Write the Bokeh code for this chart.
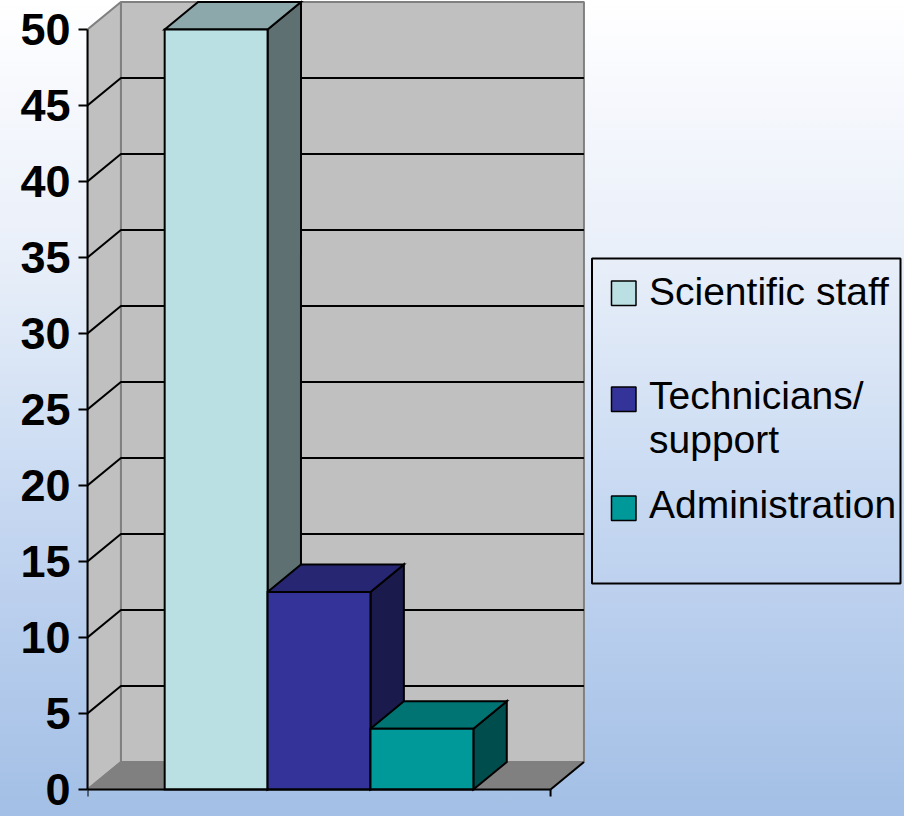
from bokeh.plotting import figure
from bokeh.models import Range1d, FixedTicker, LinearAxis, Label, BoxAnnotation
from bokeh.embed import file_html
from bokeh.resources import INLINE

# ---------------- data ----------------
series = ["Scientific staff", "Technicians/", "Administration"]
series_extra_line = ["", "support", ""]
values = [50, 13, 4]
y_ticks = [0, 5, 10, 15, 20, 25, 30, 35, 40, 45, 50]

# ---------------- styles ----------------
front_colors = ["#BBE0E3", "#333399", "#009999"]
top_colors = ["#8CA8AA", "#262673", "#007373"]
side_colors = ["#5E7072", "#1A1A4D", "#004D4D"]
WALL = "#C0C0C0"
FLOOR = "#808080"
FONT = "Liberation Sans"

W, H = 904, 816
LEFT = 87            # frame left = front value axis
Y0 = 789.0           # pixel row of value 0 on the front plane
PXX = 102.9          # px per bar width
PXY = 15.2           # px per value unit
GAP = 0.75           # half gap (gap width 150%)
DX = 33.4 / PXX      # 3-D depth offset, x
DY = 27.5 / PXY      # 3-D depth offset, y
N = len(values)
X_END = 2 * GAP + N  # floor width
Y_TOP = y_ticks[-1]


def px_x(px):
    return (px - LEFT) / PXX


def px_y(py):
    return (Y0 - py) / PXY


p = figure(width=W, height=H,
           x_range=Range1d(0, (W - LEFT) / PXX),
           y_range=Range1d(px_y(H), px_y(0)),
           output_backend="svg", toolbar_location=None,
           x_axis_location=None, y_axis_location=None,
           min_border_left=LEFT, min_border_right=0,
           min_border_top=0, min_border_bottom=0)
p.grid.visible = False
p.outline_line_color = None
p.background_fill_alpha = 0
p.border_fill_alpha = 0
p.styles = {"background": "linear-gradient(to bottom, #ffffff 0%, #f6f8fd 12%, "
                          "#eaf0f9 30%, #d6e3f5 48%, #c6d8f1 62%, #bcd0ee 73%, "
                          "#afc8ea 86%, #a3bfe5 100%)"}

# ---------------- walls and floor ----------------
p.quad(left=DX, right=X_END + DX, bottom=DY, top=Y_TOP + DY,
       fill_color=WALL, line_color="#808080", line_width=2)
p.patch([0, DX, DX, 0], [0, DY, Y_TOP + DY, Y_TOP],
        fill_color=WALL, line_color="#808080", line_width=2)
p.patch([0, X_END, X_END + DX, DX], [0, 0, DY, DY],
        fill_color=FLOOR, line_color="#808080", line_width=1.5)

grid_vals = y_ticks[1:-1]
p.multi_line(xs=[[0, DX, X_END + DX] for v in grid_vals],
             ys=[[v, v + DY, v + DY] for v in grid_vals],
             line_color="black", line_width=2)

# ---------------- bars ----------------
lefts = [GAP + i for i in range(N)]
rights = [l + 1 for l in lefts]

p.patches(xs=[[r, r + DX, r + DX, r] for r in rights],
          ys=[[0, DY, v + DY, v] for v in values],
          fill_color=side_colors, line_color="black", line_width=2,
          line_join="miter")
p.patches(xs=[[l, r, r + DX, l + DX] for l, r in zip(lefts, rights)],
          ys=[[v, v, v + DY, v + DY] for v in values],
          fill_color=top_colors, line_color="black", line_width=2,
          line_join="miter")
p.quad(left=lefts, right=rights, bottom=0, top=values,
       fill_color=front_colors, line_color="black", line_width=2,
       line_join="miter")

# ---------------- category axis (front edge of the floor) ----------------
tick_len = 7 / PXY
p.segment(x0=[0, 0, X_END, X_END], y0=[0, 0, 0, 0],
          x1=[X_END, 0, X_END, X_END + DX], y1=[0, -tick_len, -tick_len, DY],
          line_color="black", line_width=2)

# ---------------- value axis ----------------
yaxis = LinearAxis(ticker=FixedTicker(ticks=y_ticks), bounds=(0, Y_TOP),
                   axis_line_color="black", axis_line_width=2,
                   major_tick_line_color="black", major_tick_line_width=2,
                   major_tick_out=9, major_tick_in=0,
                   minor_tick_out=0, minor_tick_in=0,
                   major_label_standoff=8,
                   major_label_text_font=FONT,
                   major_label_text_font_style="bold",
                   major_label_text_font_size="45px",
                   major_label_text_color="black")
p.add_layout(yaxis, "left")

# ---------------- legend ----------------
p.add_layout(BoxAnnotation(left=px_x(591.5), right=px_x(900),
                           top=px_y(258), bottom=px_y(583),
                           fill_alpha=0, line_color="black", line_alpha=1,
                           line_width=2))
swatch_tops = [280.5, 386.5, 495.5]
baselines = [306, 410, 519]
LABEL_SHIFT = 15     # compensates Label's baseline placement
for i in range(N):
    p.add_layout(BoxAnnotation(left=px_x(611), right=px_x(635.5),
                               top=px_y(swatch_tops[i]), bottom=px_y(swatch_tops[i] + 24.5),
                               fill_color=front_colors[i], fill_alpha=1,
                               line_color="black", line_alpha=1, line_width=1.5))
    p.add_layout(Label(x=px_x(648.5), y=px_y(baselines[i] - LABEL_SHIFT), text=series[i],
                       text_font=FONT, text_font_size="39px",
                       text_color="black", text_baseline="alphabetic",
                       text_align="left"))
    if series_extra_line[i]:
        p.add_layout(Label(x=px_x(648.5), y=px_y(baselines[i] + 44 - LABEL_SHIFT),
                           text=series_extra_line[i],
                           text_font=FONT, text_font_size="39px",
                           text_color="black", text_baseline="alphabetic",
                           text_align="left"))

open("out.html", "w").write(file_html(p, INLINE))
